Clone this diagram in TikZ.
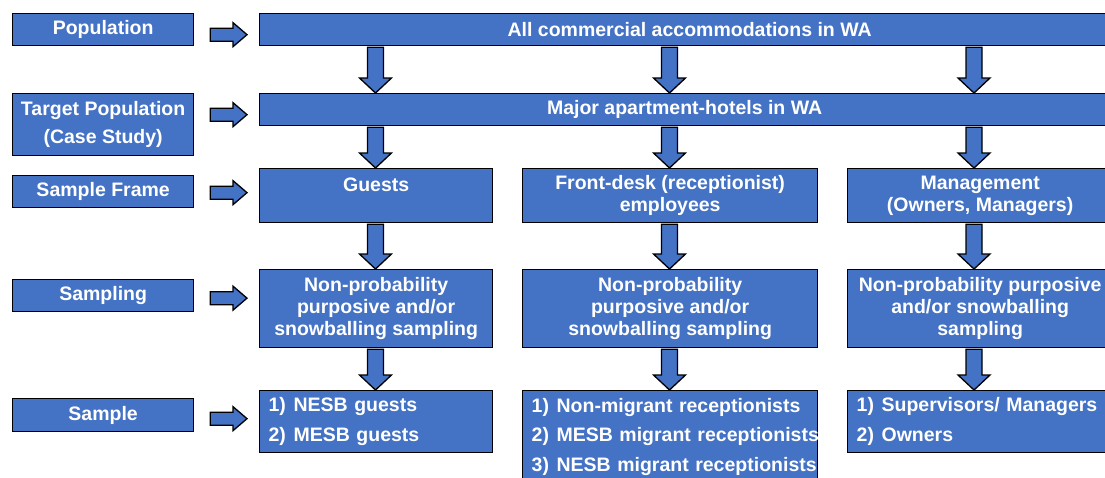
\documentclass[tikz,border=0pt]{standalone}
\usepackage{fontspec}
\setmainfont{Liberation Sans}
\usetikzlibrary{calc}
\definecolor{boxblue}{HTML}{4472C4}

% vertical block arrow: from anchor #1 to anchor #2, along the column through #3
\newcommand\vfat[3]{%
  \draw[fatarrow] let \p1=(#1 -| #3), \p2=(#2 -| #3) in
    (\x1-8pt,\y1-1pt) -- (\x1+8pt,\y1-1pt) -- (\x1+8pt,\y2+15pt) --
    (\x1+16pt,\y2+15pt) -- (\x1,\y2) -- (\x1-16pt,\y2+15pt) --
    (\x1-8pt,\y2+15pt) -- cycle;}
% horizontal block arrow: from anchor #1 to anchor #2, shifted down by #3
\newcommand\hfat[3]{%
  \draw[fatarrow] let \p1=(#1), \p2=(#2), \p3=($(#1)+(0,#3)$) in
    (\x1+16pt,\y3+6.5pt) -- (\x2-26pt,\y3+6.5pt) -- (\x2-26pt,\y3+12pt) --
    (\x2-12pt,\y3) -- (\x2-26pt,\y3-12pt) -- (\x2-26pt,\y3-6.5pt) --
    (\x1+16pt,\y3-6.5pt) -- cycle;}
% numbered list entry
\newcommand\entry[2]{\mbox{\makebox[25pt][l]{#1}#2}}

\begin{document}
\begin{tikzpicture}[x=1pt,y=-1pt,
  box/.style={draw=black, line width=1.3pt, fill=boxblue, text=white,
    font=\fontsize{19.5}{22}\selectfont\bfseries, inner sep=0pt,
    anchor=north west, align=center},
  listbox/.style={box, align=left, inner xsep=9pt},
  fatarrow/.style={draw=black, line width=1.3pt, fill=boxblue, line join=miter}]
\useasboundingbox (0,0) rectangle (1105,477);
\clip (0,0) rectangle (1105,477);

% column axes for the vertical arrows
\coordinate (c1) at (375.5,0);
\coordinate (c2) at (669.5,0);
\coordinate (c3) at (974,0);

% stage labels
\node[box, minimum width=181, minimum height=32] (pop) at (12,13) {Population};
\node[box, minimum width=181, minimum height=62] (tgt) at (12,93) {Target Population\\[6pt](Case Study)};
\node[box, minimum width=181, minimum height=32] (frm) at (12,175) {Sample Frame};
\node[box, minimum width=181, minimum height=32] (smp) at (12,279) {Sampling};
\node[box, minimum width=181, minimum height=33] (spl) at (12,398) {Sample};

% population rows
\node[box, minimum width=860, minimum height=32] (all) at (259,13) {All commercial accommodations in WA};
\node[box, minimum width=850, minimum height=32] (maj) at (259,93) {Major apartment-hotels in WA};

% sample frames
\node[box, minimum width=233, minimum height=54] (g1) at (259,168) {Guests\\\mbox{}};
\node[box, minimum width=295, minimum height=54] (g2) at (522,168) {Front-desk (receptionist)\\employees};
\node[box, minimum width=265, minimum height=54] (g3) at (847,168) {Management\\(Owners, Managers)};

% sampling methods
\node[box, minimum width=233, minimum height=78] (s1) at (259,269) {Non-probability\\purposive and/or\\snowballing sampling};
\node[box, minimum width=295, minimum height=78] (s2) at (522,269) {Non-probability\\purposive and/or\\snowballing sampling};
\node[box, minimum width=265, minimum height=78] (s3) at (847,269) {Non-probability purposive\\and/or snowballing\\sampling};

% samples
\node[listbox, text width=215, minimum height=62] (r1) at (259,390)
  {\entry{1)}{NESB guests}\\[7.5pt]\entry{2)}{MESB guests}};
\node[listbox, text width=277, minimum height=92] (r2) at (522,390)
  {\entry{1)}{Non-migrant receptionists}\\[7.5pt]\entry{2)}{MESB migrant receptionists}\\[7.5pt]\entry{3)}{NESB migrant receptionists}};
\node[listbox, text width=247, minimum height=62] (r3) at (847,390)
  {\entry{1)}{Supervisors/ Managers}\\[7.5pt]\entry{2)}{Owners}};

% stage arrows
\hfat{pop.east}{all.west}{5}
\hfat{tgt.east}{maj.west}{-10}
\hfat{frm.east}{g1.west}{1}
\hfat{smp.east}{s1.west}{2.5}
\hfat{spl.east}{r1.west}{3.5}

% flow arrows
\vfat{all.south}{maj.north}{c1}
\vfat{all.south}{maj.north}{c2}
\vfat{all.south}{maj.north}{c3}
\vfat{maj.south}{g1.north}{c1}
\vfat{maj.south}{g2.north}{c2}
\vfat{maj.south}{g3.north}{c3}
\vfat{g1.south}{s1.north}{c1}
\vfat{g2.south}{s2.north}{c2}
\vfat{g3.south}{s3.north}{c3}
\vfat{s1.south}{r1.north}{c1}
\vfat{s2.south}{r2.north}{c2}
\vfat{s3.south}{r3.north}{c3}
\end{tikzpicture}
\end{document}
